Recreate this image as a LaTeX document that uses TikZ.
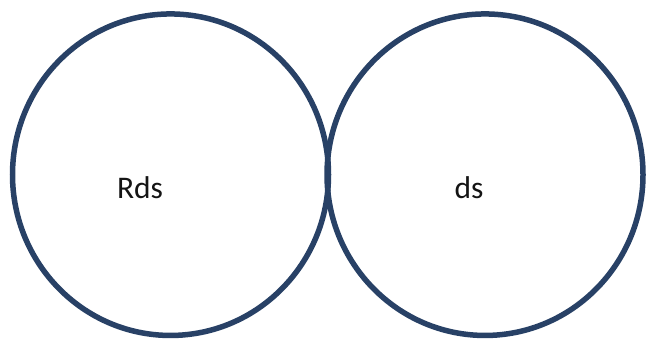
\documentclass[tikz,border=0pt]{standalone}
\usepackage{fontspec}
\setmainfont{Carlito}
\usetikzlibrary{shapes.geometric}
\definecolor{ringblue}{RGB}{40,65,102}
\definecolor{labeltext}{RGB}{20,20,20}
\begin{document}
\begin{tikzpicture}[x=1pt,y=1pt,
  ring/.style={ellipse, draw=ringblue, line width=5.5pt, minimum width=316pt, minimum height=321.5pt, inner sep=0pt},
  label/.style={font=\fontsize{31.5}{36}\selectfont, text=labeltext, inner sep=0pt}]
  \useasboundingbox (0,0) rectangle (647,338);
  % two touching sets
  \node[ring] (left) at (170.5,163.3) {};
  \node[ring] (right) at (485,163.3) {};
  % set names
  \node[label] (rds) at (140,150.5) {Rds};
  \node[label] (ds) at (469,150.5) {ds};
\end{tikzpicture}
\end{document}
